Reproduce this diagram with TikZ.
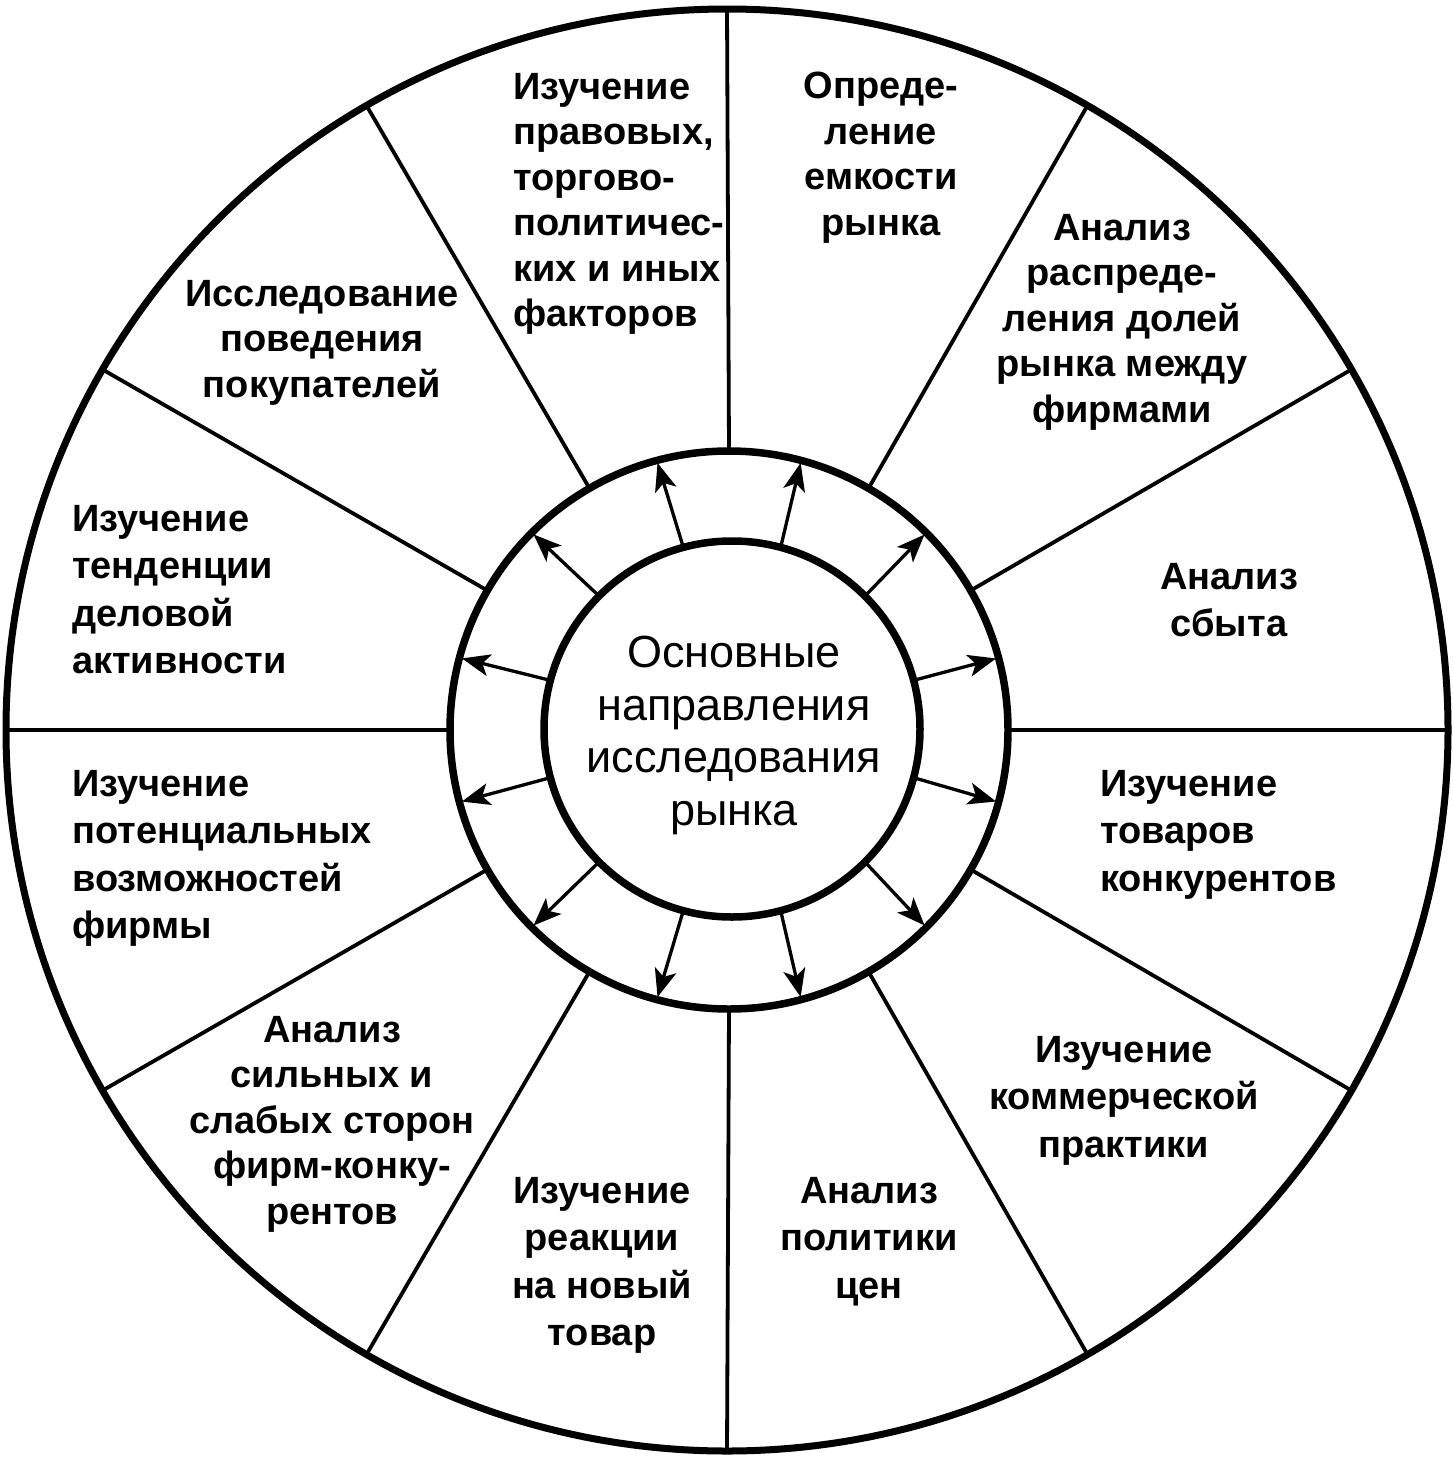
\documentclass[tikz,border=0pt]{standalone}
\usepackage{fontspec}
\setmainfont{Liberation Sans}
\usetikzlibrary{arrows.meta}
\begin{document}
\begin{tikzpicture}[x=1pt,y=-1pt,
  ring/.style={circle,draw,line width=7.5pt,inner sep=0pt,outer sep=0pt},
  spoke/.style={line width=3.8pt},
  arr/.style={line width=3.3pt,shorten >=2.5pt,-{Stealth[length=28pt,width=22pt,inset=7pt]}},
  sect/.style={inner sep=0pt,font=\bfseries\fontsize{38}{47.5}\selectfont},
  tight/.style={font=\bfseries\fontsize{38}{45.5}\selectfont},
  core/.style={inner sep=0pt,font=\fontsize{45}{52.5}\selectfont}
]
\useasboundingbox (0,0) rectangle (1452,1462);
\node[ring,line width=7pt,minimum size=1442pt] (outer) at (727,730) {};
\node[ring,minimum size=558pt] (mid) at (729,730) {};
\node[ring,minimum size=376pt] (inner) at (732,729) {};
\foreach \a in {0,30,...,330} \draw[spoke] (mid.\a) -- (outer.\a);
\foreach \a in {15,45,...,345} \draw[arr] (inner.\a) -- (mid.\a);

\node[sect,tight,anchor=north west,align=left] (s105) at (513,73) {Изучение\\правовых,\\торгово-\\политичес-\\ких и иных\\факторов};
\node[sect,tight,anchor=north,align=center] (s75) at (881,72) {Опреде-\\ление\\емкости\\рынка};
\node[sect,tight,anchor=north,align=center] (s45) at (1122,214) {Анализ\\распреде-\\ления долей\\рынка между\\фирмами};
\node[sect,anchor=north,align=center] (s15) at (1229,563) {Анализ\\сбыта};
\node[sect,anchor=north west,align=left] (s345) at (1100,770) {Изучение\\товаров\\конкурентов};
\node[sect,anchor=north,align=center] (s315) at (1124,1036) {Изучение\\коммерческой\\практики};
\node[sect,anchor=north,align=center] (s285) at (869,1177) {Анализ\\политики\\цен};
\node[sect,anchor=north,align=center] (s255) at (602,1177) {Изучение\\реакции\\на новый\\товар};
\node[sect,tight,anchor=north,align=center] (s225) at (332,1016) {Анализ\\сильных и\\слабых сторон\\фирм-конку-\\рентов};
\node[sect,anchor=north west,align=left] (s195) at (72,770) {Изучение\\потенциальных\\возможностей\\фирмы};
\node[sect,anchor=north west,align=left] (s165) at (72,505) {Изучение\\тенденции\\деловой\\активности};
\node[sect,tight,anchor=north,align=center] (s135) at (322,280) {Исследование\\поведения\\покупателей};
\node[core,anchor=north,align=center] (centre) at (734,636) {Основные\\направления\\исследования\\рынка};
\end{tikzpicture}
\end{document}
